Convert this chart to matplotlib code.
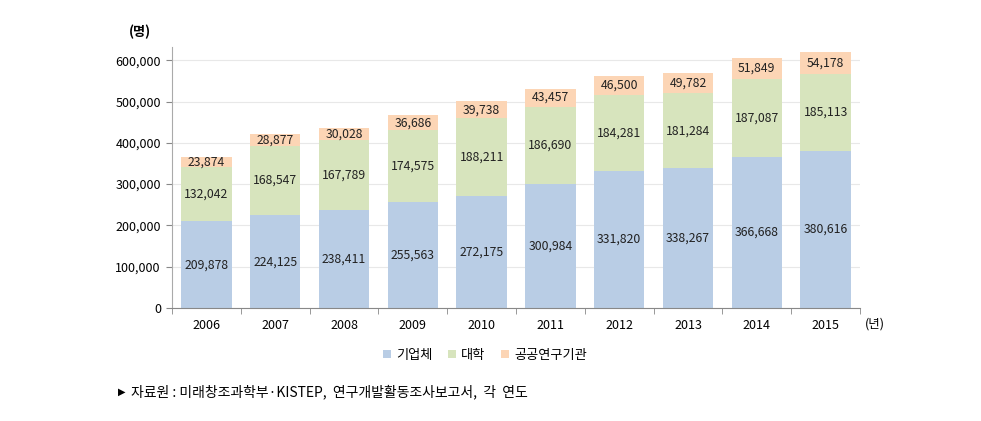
import matplotlib
matplotlib.use("Agg")
import matplotlib.pyplot as plt
import numpy as np
from matplotlib.ticker import FuncFormatter

plt.rcParams['font.family'] = ['Noto Sans CJK KR', 'DejaVu Sans']

years = ['2006', '2007', '2008', '2009', '2010', '2011', '2012', '2013', '2014', '2015']
company = [209878, 224125, 238411, 255563, 272175, 300984, 331820, 338267, 366668, 380616]
university = [132042, 168547, 167789, 174575, 188211, 186690, 184281, 181284, 187087, 185113]
public = [23874, 28877, 30028, 36686, 39738, 43457, 46500, 49782, 51849, 54178]
series_names = ['기업체', '대학', '공공연구기관']
colors = ['#B9CDE5', '#D7E4BD', '#FCD5B5']

fig = plt.figure(figsize=(9.81, 4.21), dpi=100)
ax = fig.add_axes([172/981, 1-308/421, (860-172)/981, (308-47)/421])

x = np.arange(len(years))
w = 0.73
bottom = np.zeros(len(years))
for vals, c, name in zip([company, university, public], colors, series_names):
    vals = np.array(vals)
    ax.bar(x, vals, w, bottom=bottom, color=c, label=name, zorder=2)
    for xi, b, v in zip(x, bottom, vals):
        ax.text(xi, b + v/2, f"{v:,}", ha='center', va='center', fontsize=8.8, color='#222222', zorder=3)
    bottom += vals

ax.set_xlim(-0.5, len(years)-0.5)
ax.set_ylim(0, 632000)
ax.set_yticks(np.arange(0, 600001, 100000))
ax.yaxis.set_major_formatter(FuncFormatter(lambda v, p: f"{int(v):,}"))
ax.grid(axis='y', color='#E8E8E8', linewidth=0.8, zorder=0)
ax.set_axisbelow(True)

ax.set_xticks(x)
ax.set_xticklabels(years)
ax.set_xticks(np.arange(-0.5, len(years), 1), minor=True)
ax.tick_params(axis='x', which='major', length=0, pad=8, labelsize=9)
ax.tick_params(axis='x', which='minor', length=4, color='#888888', direction='out')
ax.tick_params(axis='y', length=4, color='#888888', labelsize=9, pad=4)

for s in ['top', 'right']:
    ax.spines[s].set_visible(False)
ax.spines['left'].set_color('#AAAAAA')
ax.spines['bottom'].set_color('#888888')

fig.text(140/981, 1-32/421, '(명)', fontsize=9.5, fontweight='bold', ha='center', va='center')
fig.text(865/981, 1-324/421, '(년)', fontsize=9, ha='left', va='center')

fig.legend(loc='center', bbox_to_anchor=(485/981, 1-355/421), ncol=3, frameon=False,
           fontsize=9.5, handlelength=0.6, handleheight=0.6, handletextpad=0.4, columnspacing=1.2)

fig.text(118/981, 1-392/421, '▶', fontsize=7, ha='left', va='center', family=['DejaVu Sans'])
fig.text(131/981, 1-392/421, '자료원 : 미래창조과학부·KISTEP,  연구개발활동조사보고서,  각  연도',
         fontsize=10, ha='left', va='center')

fig.savefig('out.png', dpi=100)
